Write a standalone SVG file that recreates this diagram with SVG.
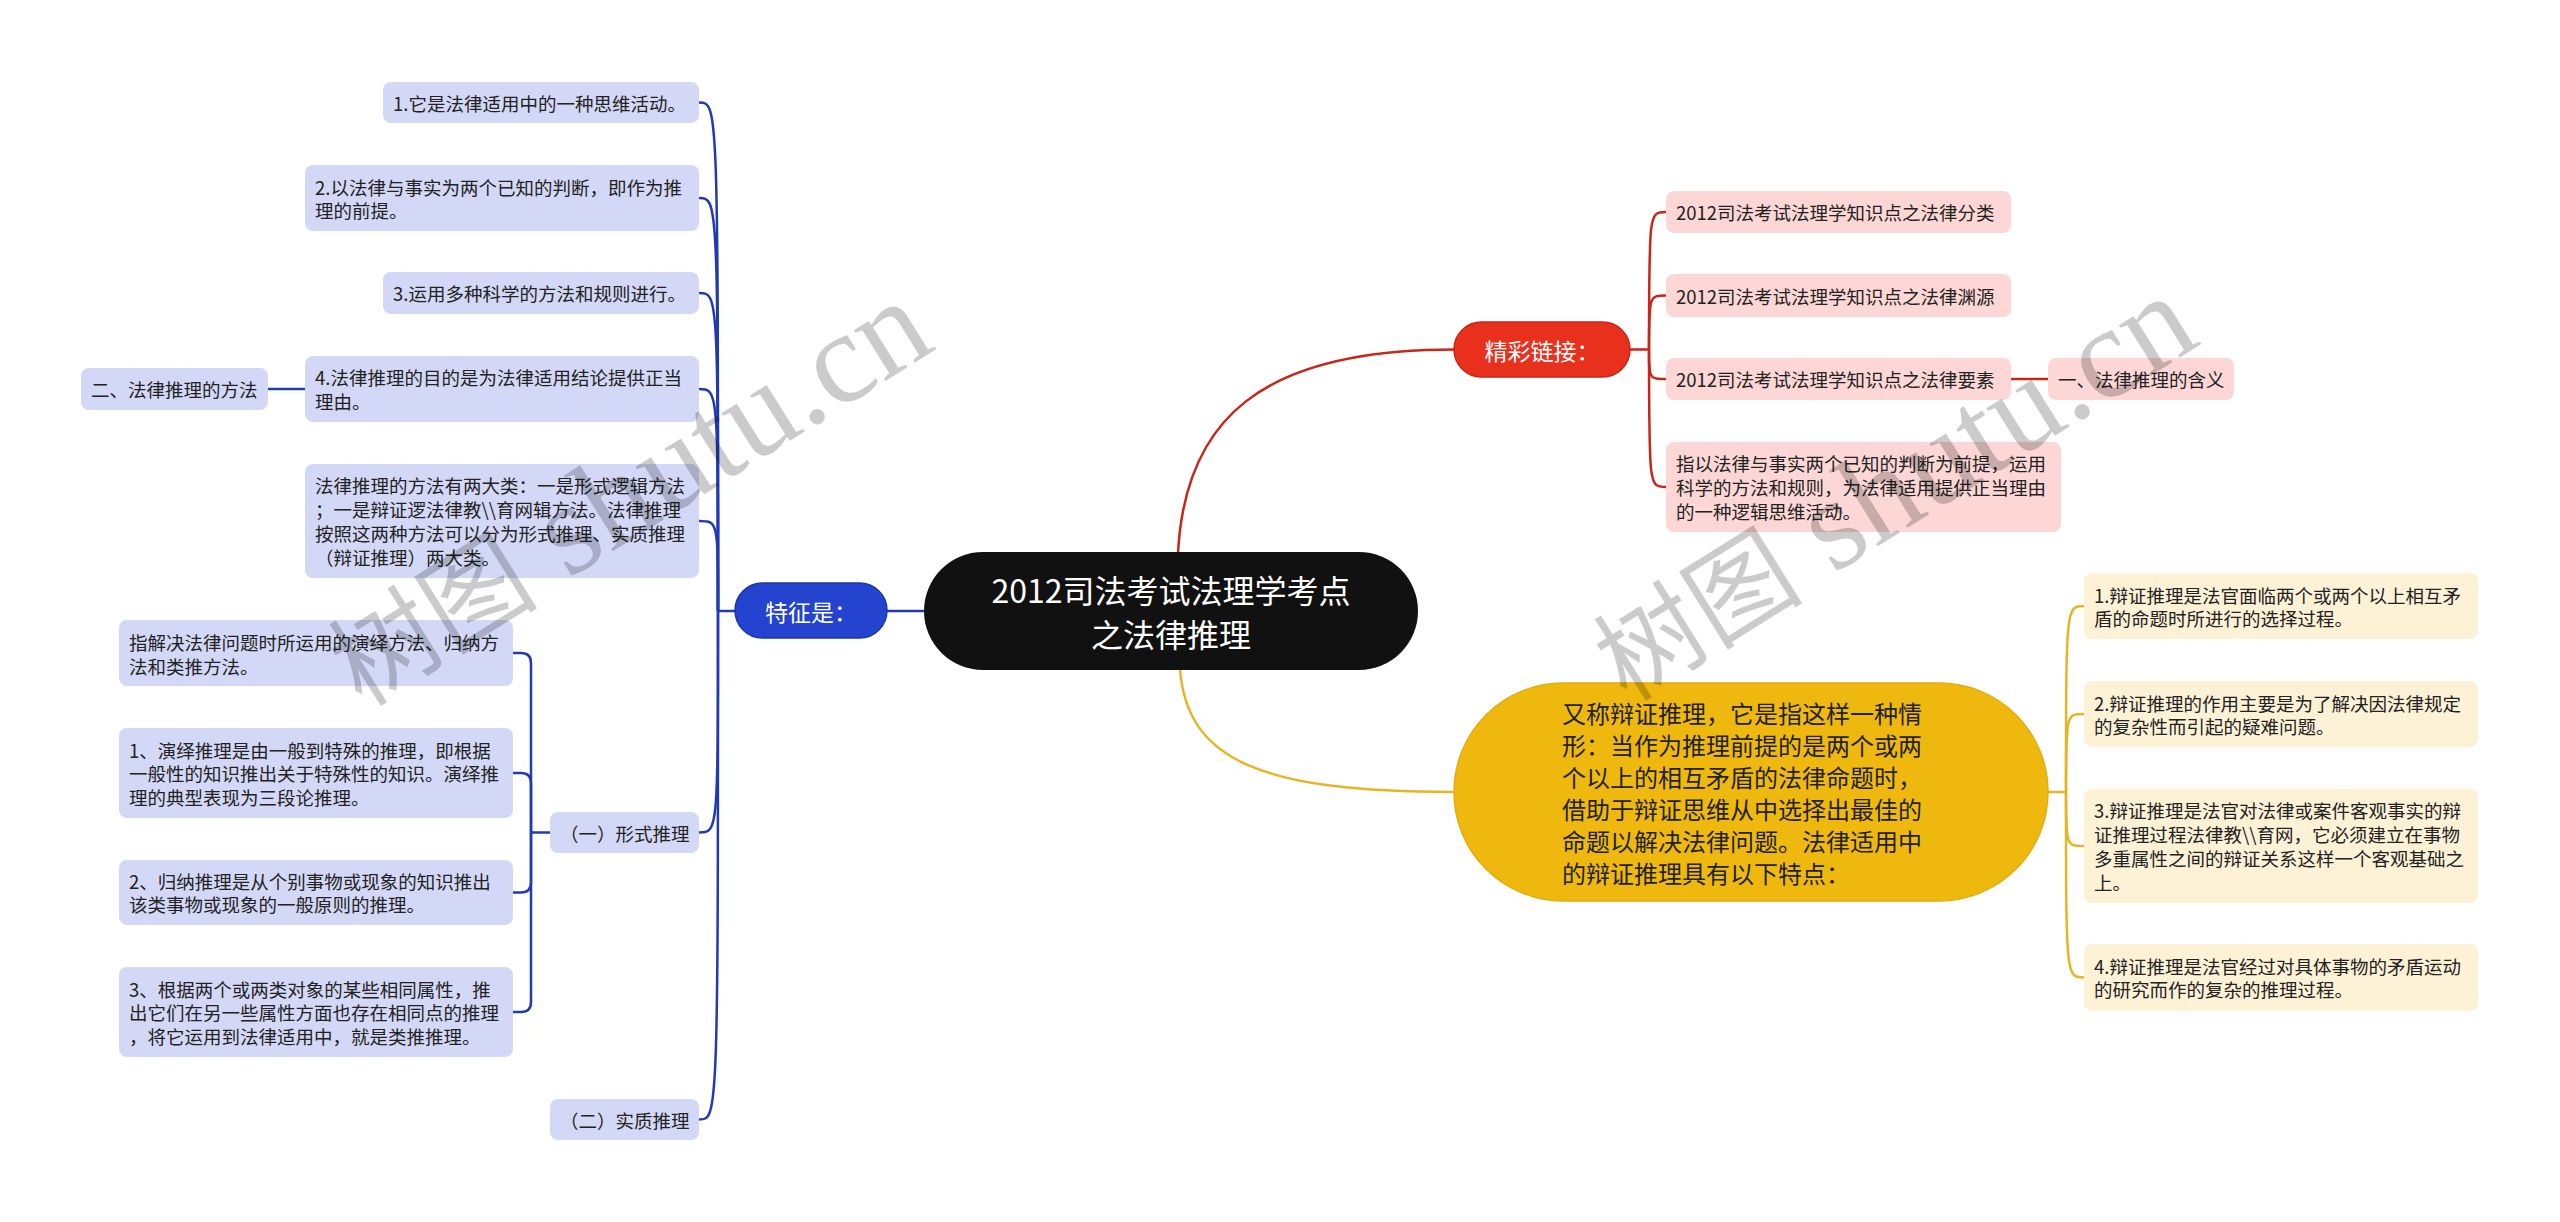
<svg xmlns="http://www.w3.org/2000/svg" width="2560" height="1222" viewBox="0 0 2560 1222">
<style>
.bg{fill:#ffffff}
.bb{fill:#d3d8f6}
.bp{fill:#fcd7d5}
.by{fill:#fdf1d6}
.t{font-family:"Noto Sans CJK SC","Noto Sans",sans-serif;font-size:18.5px;fill:#222222;dominant-baseline:central}
.tw{font-family:"Noto Sans CJK SC","Noto Sans",sans-serif;fill:#ffffff;dominant-baseline:central;text-anchor:middle}
.ty{font-family:"Noto Sans CJK SC","Noto Sans",sans-serif;font-size:24px;fill:#222222;dominant-baseline:central}
.lb{fill:none;stroke:#2239b4;stroke-width:2.5}
.lr{fill:none;stroke:#c8261a;stroke-width:2.5}
.ly{fill:none;stroke:#e6b523;stroke-width:2.5}
.wm{font-family:"Liberation Serif","Noto Sans CJK SC",serif;fill:#000000;opacity:0.2}
</style>
<rect class="bg" x="0" y="0" width="2560" height="1222"/>

<g id="connectors">
  <path class="lb" d="M887,611 L924,611" stroke-width="3"/>
  <path class="lr" d="M1178,553 C1185,420 1260,349.5 1454,349.5" stroke-width="3"/>
  <path class="ly" d="M1180,669 C1187,760 1260,792 1454,792" stroke-width="3"/>
  <path class="lb" d="M735,611 L718,611"/>
  <path class="lb" d="M718,611 C718,102.5 718,102.5 699,102.5"/>
  <path class="lb" d="M718,611 C718,198 718,198 699,198"/>
  <path class="lb" d="M718,611 C718,293 718,293 699,293"/>
  <path class="lb" d="M718,611 C718,389 718,389 699,389"/>
  <path class="lb" d="M718,611 C718,521 718,521 699,521"/>
  <path class="lb" d="M718,611 C718,832.5 718,832.5 699,832.5"/>
  <path class="lb" d="M718,611 C718,1119.5 718,1119.5 699,1119.5"/>
  <path class="lb" d="M305,389 L268,389" stroke-width="4"/>
  <path class="lb" d="M550,832.5 L531,832.5" stroke-width="3"/>
  <path class="lb" d="M531,832.5 L531,663 Q531,653 521,653 L513,653" stroke-width="3"/>
  <path class="lb" d="M531,832.5 L531,783 Q531,773 521,773 L513,773" stroke-width="3"/>
  <path class="lb" d="M531,832.5 L531,882.5 Q531,892.5 521,892.5 L513,892.5" stroke-width="3"/>
  <path class="lb" d="M531,832.5 L531,1002 Q531,1012 521,1012 L513,1012" stroke-width="3"/>
  <path class="lr" d="M1630,349.5 L1649,349.5"/>
  <path class="lr" d="M1649,349.5 C1649,212 1649,212 1666,212"/>
  <path class="lr" d="M1649,349.5 C1649,295.5 1649,295.5 1666,295.5"/>
  <path class="lr" d="M1649,349.5 C1649,379 1649,379 1666,379"/>
  <path class="lr" d="M1649,349.5 C1649,487 1649,487 1666,487"/>
  <path class="lr" d="M2011,379 L2048,379" stroke-width="4"/>
  <path class="ly" d="M2048,792 L2066,792"/>
  <path class="ly" d="M2066,792 C2066,606 2066,606 2084,606"/>
  <path class="ly" d="M2066,792 C2066,714 2066,714 2084,714"/>
  <path class="ly" d="M2066,792 C2066,846 2066,846 2084,846"/>
  <path class="ly" d="M2066,792 C2066,977.5 2066,977.5 2084,977.5"/>
</g>

<g id="root">
  <rect x="924" y="552" width="494" height="118" rx="59" fill="#111111"/>
  <text class="tw" x="1171" y="589" font-size="32">2012司法考试法理学考点</text>
  <text class="tw" x="1171" y="633" font-size="32">之法律推理</text>
</g>

<g id="n-tezheng">
  <rect x="735" y="583" width="152" height="55" rx="27.5" fill="#2443cf" stroke="#1d36a8" stroke-width="1.5"/>
  <text class="tw" x="811" y="611" font-size="23">特征是：</text>
</g>
<g id="n-b1">
  <rect class="bb" x="383" y="82" width="316" height="41" rx="8"/>
  <text class="t" x="393" y="102.5">1.它是法律适用中的一种思维活动。</text>
</g>
<g id="n-b2">
  <rect class="bb" x="305" y="165" width="394" height="66" rx="8"/>
  <text class="t" x="315" y="187">2.以法律与事实为两个已知的判断，即作为推</text>
  <text class="t" x="315" y="210">理的前提。</text>
</g>
<g id="n-b3">
  <rect class="bb" x="383" y="272" width="316" height="42" rx="8"/>
  <text class="t" x="393" y="293">3.运用多种科学的方法和规则进行。</text>
</g>
<g id="n-b4">
  <rect class="bb" x="305" y="356" width="394" height="66" rx="8"/>
  <text class="t" x="315" y="377">4.法律推理的目的是为法律适用结论提供正当</text>
  <text class="t" x="315" y="401">理由。</text>
</g>
<g id="n-b4a">
  <rect class="bb" x="81" y="368" width="187" height="42" rx="8"/>
  <text class="t" x="91" y="389">二、法律推理的方法</text>
</g>
<g id="n-b5">
  <rect class="bb" x="305" y="464" width="394" height="114" rx="8"/>
  <text class="t" x="315" y="485">法律推理的方法有两大类：一是形式逻辑方法</text>
  <text class="t" x="315" y="509">；一是辩证逻法律教\\育网辑方法。法律推理</text>
  <text class="t" x="315" y="533">按照这两种方法可以分为形式推理、实质推理</text>
  <text class="t" x="315" y="557">（辩证推理）两大类。</text>
</g>
<g id="n-b6">
  <rect class="bb" x="550" y="812" width="149" height="41" rx="8"/>
  <text class="t" x="560" y="832.5">（一）形式推理</text>
</g>
<g id="n-b6a">
  <rect class="bb" x="119" y="620" width="394" height="66" rx="8"/>
  <text class="t" x="129" y="642">指解决法律问题时所运用的演绎方法、归纳方</text>
  <text class="t" x="129" y="666">法和类推方法。</text>
</g>
<g id="n-b6b">
  <rect class="bb" x="119" y="728" width="394" height="90" rx="8"/>
  <text class="t" x="129" y="750">1、演绎推理是由一般到特殊的推理，即根据</text>
  <text class="t" x="129" y="773">一般性的知识推出关于特殊性的知识。演绎推</text>
  <text class="t" x="129" y="797">理的典型表现为三段论推理。</text>
</g>
<g id="n-b6c">
  <rect class="bb" x="119" y="860" width="394" height="65" rx="8"/>
  <text class="t" x="129" y="881">2、归纳推理是从个别事物或现象的知识推出</text>
  <text class="t" x="129" y="904">该类事物或现象的一般原则的推理。</text>
</g>
<g id="n-b6d">
  <rect class="bb" x="119" y="967" width="394" height="90" rx="8"/>
  <text class="t" x="129" y="989">3、根据两个或两类对象的某些相同属性，推</text>
  <text class="t" x="129" y="1012">出它们在另一些属性方面也存在相同点的推理</text>
  <text class="t" x="129" y="1036">，将它运用到法律适用中，就是类推推理。</text>
</g>
<g id="n-b7">
  <rect class="bb" x="550" y="1099" width="149" height="41" rx="8"/>
  <text class="t" x="560" y="1119.5">（二）实质推理</text>
</g>

<g id="n-jingcai">
  <rect x="1454" y="322" width="176" height="55" rx="27.5" fill="#e8301d" stroke="#c8261a" stroke-width="1.5"/>
  <text class="tw" x="1542" y="349.5" font-size="23">精彩链接：</text>
</g>
<g id="n-r1">
  <rect class="bp" x="1666" y="191" width="345" height="42" rx="8"/>
  <text class="t" x="1676" y="212">2012司法考试法理学知识点之法律分类</text>
</g>
<g id="n-r2">
  <rect class="bp" x="1666" y="274" width="345" height="43" rx="8"/>
  <text class="t" x="1676" y="295.5">2012司法考试法理学知识点之法律渊源</text>
</g>
<g id="n-r3">
  <rect class="bp" x="1666" y="358" width="345" height="42" rx="8"/>
  <text class="t" x="1676" y="379">2012司法考试法理学知识点之法律要素</text>
</g>
<g id="n-r3a">
  <rect class="bp" x="2048" y="358" width="186" height="42" rx="8"/>
  <text class="t" x="2058" y="379">一、法律推理的含义</text>
</g>
<g id="n-r4">
  <rect class="bp" x="1666" y="442" width="395" height="90" rx="8"/>
  <text class="t" x="1676" y="463">指以法律与事实两个已知的判断为前提，运用</text>
  <text class="t" x="1676" y="487">科学的方法和规则，为法律适用提供正当理由</text>
  <text class="t" x="1676" y="511">的一种逻辑思维活动。</text>
</g>

<g id="n-yellow">
  <rect x="1454" y="683" width="594" height="218" rx="109" fill="#efb80e" stroke="#e2ad10" stroke-width="1.5"/>
  <text class="ty" x="1562" y="712">又称辩证推理，它是指这样一种情</text>
  <text class="ty" x="1562" y="744">形：当作为推理前提的是两个或两</text>
  <text class="ty" x="1562" y="776">个以上的相互矛盾的法律命题时，</text>
  <text class="ty" x="1562" y="808">借助于辩证思维从中选择出最佳的</text>
  <text class="ty" x="1562" y="840">命题以解决法律问题。法律适用中</text>
  <text class="ty" x="1562" y="872">的辩证推理具有以下特点：</text>
</g>
<g id="n-y1">
  <rect class="by" x="2084" y="573" width="394" height="66" rx="8"/>
  <text class="t" x="2094" y="595">1.辩证推理是法官面临两个或两个以上相互矛</text>
  <text class="t" x="2094" y="618">盾的命题时所进行的选择过程。</text>
</g>
<g id="n-y2">
  <rect class="by" x="2084" y="681" width="394" height="66" rx="8"/>
  <text class="t" x="2094" y="703">2.辩证推理的作用主要是为了解决因法律规定</text>
  <text class="t" x="2094" y="726">的复杂性而引起的疑难问题。</text>
</g>
<g id="n-y3">
  <rect class="by" x="2084" y="789" width="394" height="114" rx="8"/>
  <text class="t" x="2094" y="810">3.辩证推理是法官对法律或案件客观事实的辩</text>
  <text class="t" x="2094" y="834">证推理过程法律教\\育网，它必须建立在事物</text>
  <text class="t" x="2094" y="858">多重属性之间的辩证关系这样一个客观基础之</text>
  <text class="t" x="2094" y="882">上。</text>
</g>
<g id="n-y4">
  <rect class="by" x="2084" y="944" width="394" height="67" rx="8"/>
  <text class="t" x="2094" y="966">4.辩证推理是法官经过对具体事物的矛盾运动</text>
  <text class="t" x="2094" y="989">的研究而作的复杂的推理过程。</text>
</g>

<g id="watermark">
  <text class="wm" x="362" y="708" transform="rotate(-32 362 708)"><tspan font-size="105">树图</tspan><tspan font-size="130"> shutu.cn</tspan></text>
  <text class="wm" x="1627" y="703" transform="rotate(-32 1627 703)"><tspan font-size="105">树图</tspan><tspan font-size="130"> shutu.cn</tspan></text>
</g>
</svg>
